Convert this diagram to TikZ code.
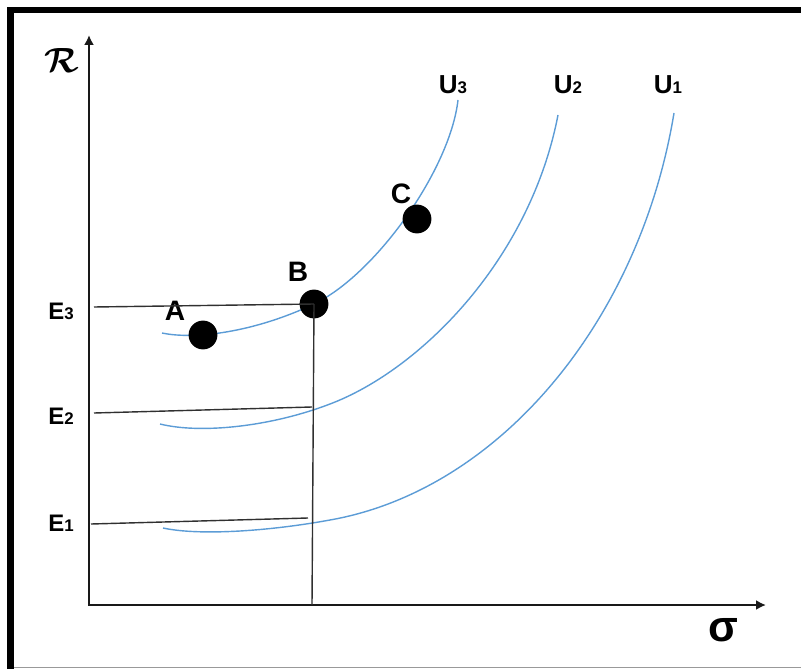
\documentclass[tikz,border=0pt]{standalone}
\usepackage{bm}
\usepackage{fontspec}
\setmainfont{Liberation Sans}
\usetikzlibrary{arrows.meta, positioning}
\definecolor{CurveBlue}{rgb}{0.36, 0.61, 0.84}
\definecolor{AxisBlack}{rgb}{0.1, 0.1, 0.1}
\definecolor{FrameGray}{rgb}{0.6, 0.6, 0.6}

\newcommand{\sublab}[2]{#1{\fontsize{12}{12}\selectfont #2}}

\begin{document}
\begin{tikzpicture}[
    x=0.025cm, y=-0.025cm,
    font=\bfseries,
    axis/.style={-{Latex[length=7pt, width=7pt]}, line width=1.6pt, AxisBlack},
    guide/.style={line width=1pt, AxisBlack!90},
    utility/.style={line width=1pt, CurveBlue},
    dot/.style={circle, fill=black, inner sep=0pt, minimum size=0.72cm},
    lbl/.style={inner sep=0pt, font=\fontsize{20}{20}\selectfont\bfseries},
    elbl/.style={inner sep=0pt, font=\fontsize{17}{17}\selectfont\bfseries},
    ulbl/.style={inner sep=0pt, font=\fontsize{18.5}{18.5}\selectfont\bfseries},
]
\useasboundingbox (0,0) rectangle (801,669);

% --- marco ---
\draw[line width=4.3pt, black] (10.5,669) -- (10.5,10) -- (801,10);
\draw[line width=1pt, FrameGray] (14,667.5) -- (801,667.5);

% --- ejes ---
\coordinate (origin) at (89,605);
\coordinate (ytop) at (89,35);
\coordinate (xend) at (766,605);
\draw[axis] (origin) -- (ytop);
\draw[axis] (88,605) -- (xend);
\node[inner sep=0pt, font=\fontsize{28}{28}\selectfont] (rlab) at (62,61) {$\bm{\mathcal{R}}$};
\node[inner sep=0pt, font=\fontsize{31}{31}\selectfont\bfseries] (slab) at (723,630) {σ};

% --- curvas de indiferencia ---
\draw[utility] (162,333) .. controls (195,340) and (255,332) .. (314,304)
    .. controls (375,275) and (450,170) .. (458,100);
\draw[utility] (160,424) .. controls (200,434) and (270,427) .. (330,404)
    .. controls (420,370) and (530,260) .. (558,115);
\draw[utility] (163,528) .. controls (200,536) and (270,531) .. (330,520)
    .. controls (500,490) and (640,320) .. (674,113);
\node[ulbl] (u3) at (453,85) {\sublab{U}{3}};
\node[ulbl] (u2) at (568,85) {\sublab{U}{2}};
\node[ulbl] (u1) at (668,85) {\sublab{U}{1}};

% --- puntos ---
\node[dot] (A) at (203,335) {};
\node[dot] (B) at (314,304) {};
\node[dot] (C) at (417,219) {};
\node[lbl] (labA) at (175,311) {A};
\node[lbl] (labB) at (298,272) {B};
\node[lbl] (labC) at (401,194) {C};

% --- niveles de rendimiento ---
\coordinate (e3) at (94,307);
\coordinate (e2) at (94,413);
\coordinate (e1) at (91,524);
\coordinate (b2) at (312,407);
\coordinate (b1) at (308,518);
\coordinate (bfoot) at (312,605);
\draw[guide] (e3) -- (B.center);
\draw[guide] (e2) -- (b2);
\draw[guide] (e1) -- (b1);
\draw[guide] (B.center) -- (bfoot);
\node[elbl] (le3) at (61,311) {\sublab{E}{3}};
\node[elbl] (le2) at (61,416) {\sublab{E}{2}};
\node[elbl] (le1) at (61,523) {\sublab{E}{1}};

\end{tikzpicture}
\end{document}
